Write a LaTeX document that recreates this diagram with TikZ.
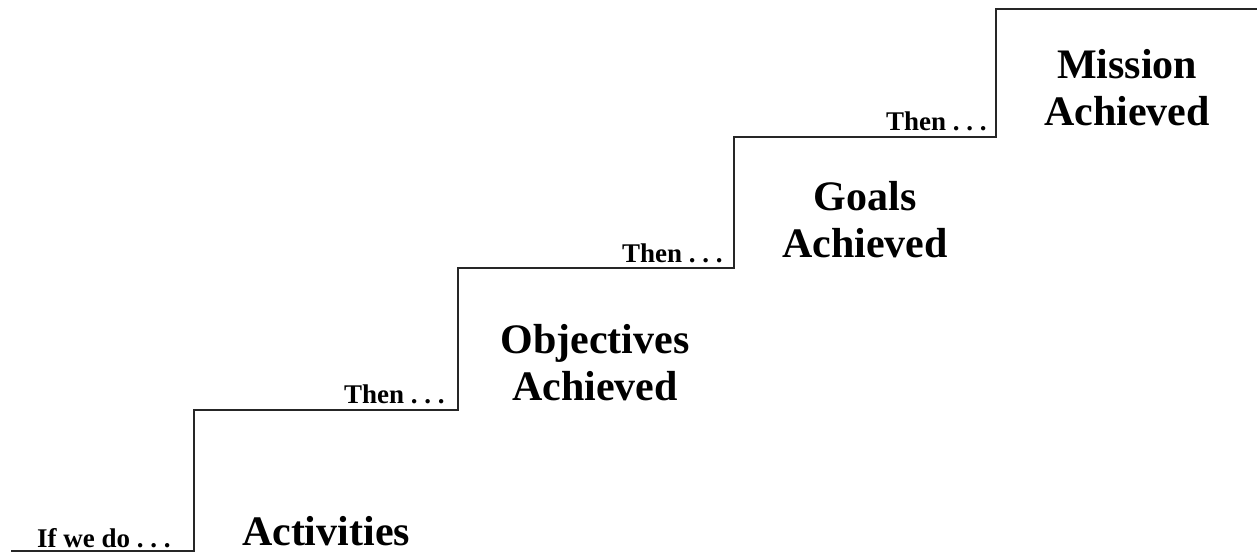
\documentclass[tikz,border=0pt]{standalone}
\usepackage{fontspec}
\setmainfont{Liberation Serif}
\usetikzlibrary{positioning}
\frenchspacing
\begin{document}
\begin{tikzpicture}[x=1pt,y=-1pt]
    \tikzstyle{tag} = [font=\fontsize{27}{32}\selectfont\bfseries,anchor=base west,inner sep=0pt]
    \tikzstyle{title} = [font=\fontsize{42}{47}\selectfont\bfseries,align=center,inner sep=0pt]
    \tikzstyle{stair} = [draw=black!85,line width=1.2pt]
    \useasboundingbox (0,0) rectangle (1257,557);

    \coordinate (c0) at (11,551);
    \coordinate (c1) at (194,410);
    \coordinate (c2) at (458,268);
    \coordinate (c3) at (734,137);
    \coordinate (c4) at (996,9);
    \coordinate (c5) at (1257,9);
    \draw [stair] (c0) -| (c1) -| (c2) -| (c3) -| (c4) -- (c5);

    \node [tag] (ifdo) at (37,547) {If we do . . .};
    \node [tag] (then1) at (344,403) {Then . . .};
    \node [tag] (then2) at (622,262) {Then . . .};
    \node [tag] (then3) at (886,130) {Then . . .};

    \node [title,anchor=base] (act) at (326,545) {Activities};
    \node [title] (obj) at (595,363) {Objectives\\Achieved};
    \node [title] (goal) at (865,220) {Goals\\Achieved};
    \node [title] (mis) at (1127,88) {Mission\\Achieved};
  \end{tikzpicture}
\end{document}
